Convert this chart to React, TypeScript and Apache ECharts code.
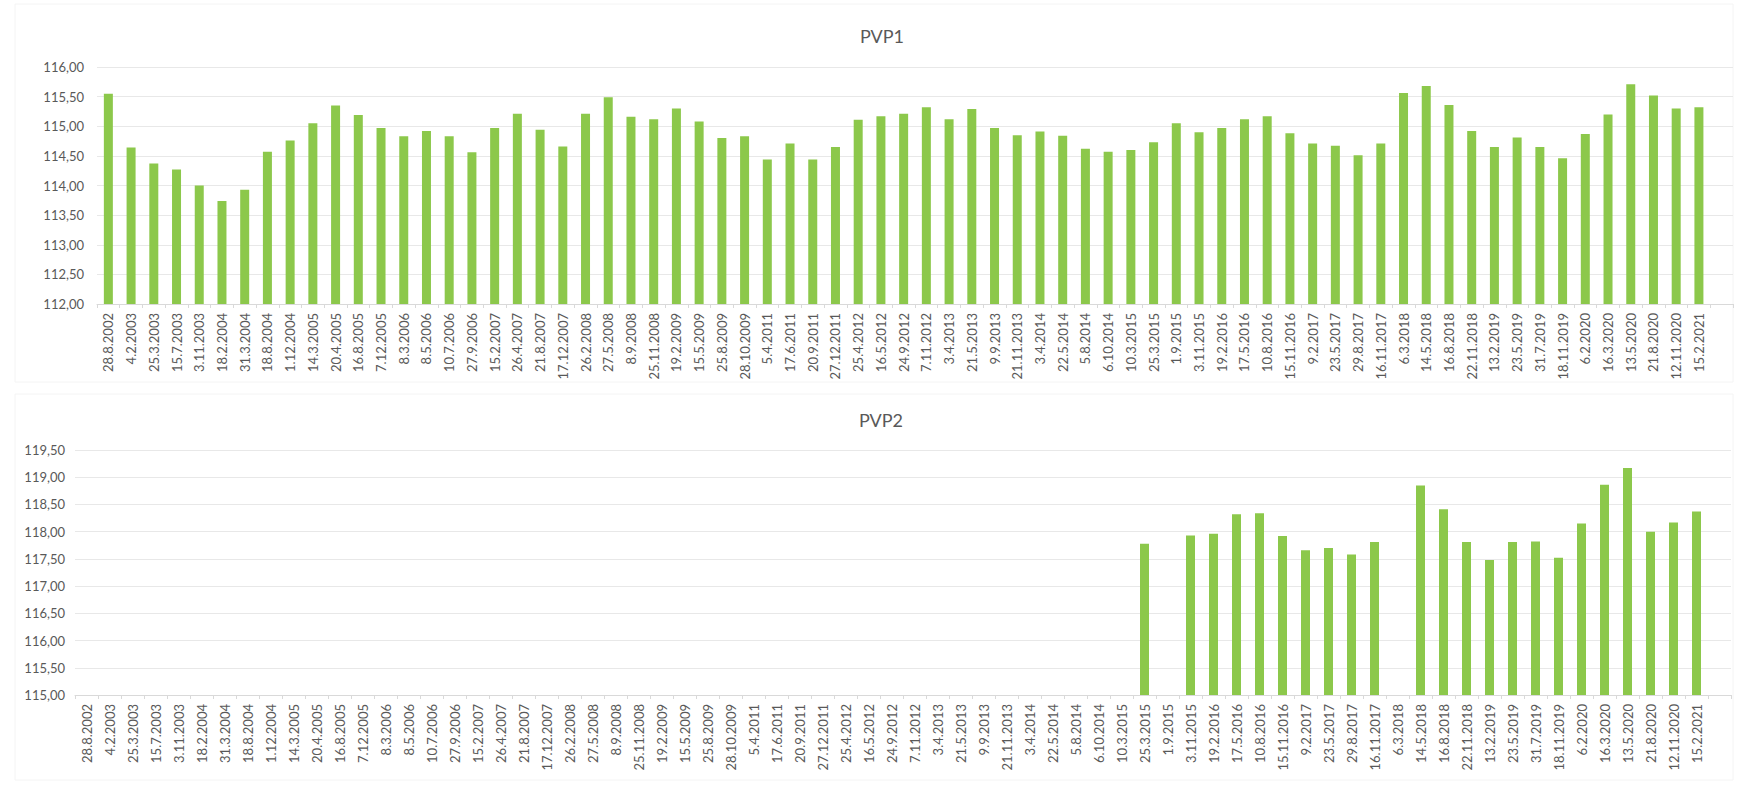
import React, { useEffect, useRef } from "react";
import * as echarts from "echarts";

const categories: string[] = [
  "28.8.2002", "4.2.2003", "25.3.2003", "15.7.2003", "3.11.2003", "18.2.2004", "31.3.2004", "18.8.2004",
  "1.12.2004", "14.3.2005", "20.4.2005", "16.8.2005", "7.12.2005", "8.3.2006", "8.5.2006", "10.7.2006",
  "27.9.2006", "15.2.2007", "26.4.2007", "21.8.2007", "17.12.2007", "26.2.2008", "27.5.2008", "8.9.2008",
  "25.11.2008", "19.2.2009", "15.5.2009", "25.8.2009", "28.10.2009", "5.4.2011", "17.6.2011", "20.9.2011",
  "27.12.2011", "25.4.2012", "16.5.2012", "24.9.2012", "7.11.2012", "3.4.2013", "21.5.2013", "9.9.2013",
  "21.11.2013", "3.4.2014", "22.5.2014", "5.8.2014", "6.10.2014", "10.3.2015", "25.3.2015", "1.9.2015",
  "3.11.2015", "19.2.2016", "17.5.2016", "10.8.2016", "15.11.2016", "9.2.2017", "23.5.2017", "29.8.2017",
  "16.11.2017", "6.3.2018", "14.5.2018", "16.8.2018", "22.11.2018", "13.2.2019", "23.5.2019", "31.7.2019",
  "18.11.2019", "6.2.2020", "16.3.2020", "13.5.2020", "21.8.2020", "12.11.2020", "15.2.2021", "",
];

const pvp1: (number | null)[] = [
  115.55, 114.64, 114.37, 114.27, 114.0, 113.74, 113.93, 114.57,
  114.76, 115.05, 115.35, 115.19, 114.97, 114.83, 114.92, 114.83,
  114.56, 114.97, 115.21, 114.94, 114.66, 115.21, 115.49, 115.16,
  115.12, 115.3, 115.08, 114.8, 114.83, 114.44, 114.71, 114.44,
  114.65, 115.11, 115.17, 115.21, 115.32, 115.12, 115.29, 114.97,
  114.85, 114.91, 114.84, 114.62, 114.57, 114.6, 114.73, 115.05,
  114.9, 114.97, 115.12, 115.17, 114.88, 114.71, 114.67, 114.51,
  114.71, 115.56, 115.68, 115.36, 114.92, 114.65, 114.81, 114.65,
  114.46, 114.87, 115.2, 115.71, 115.52, 115.3, 115.32, null,
];

const pvp2: (number | null)[] = [
  null, null, null, null, null, null, null, null,
  null, null, null, null, null, null, null, null,
  null, null, null, null, null, null, null, null,
  null, null, null, null, null, null, null, null,
  null, null, null, null, null, null, null, null,
  null, null, null, null, null, null, 117.78, null,
  117.93, 117.96, 118.32, 118.34, 117.92, 117.66, 117.7, 117.58,
  117.81, null, 118.85, 118.41, 117.81, 117.48, 117.81, 117.82,
  117.52, 118.15, 118.86, 119.17, 118.0, 118.17, 118.37, null,
];

const titles: string[] = ["PVP1", "PVP2"];
const yRange1 = { min: 112, max: 116, interval: 0.5 };
const yRange2 = { min: 115, max: 119.5, interval: 0.5 };

const FONT = "Lato, 'Open Sans', sans-serif";
const TEXT = "#595959";
const BAR = "#8cc84b";

export default function App() {
  const ref = useRef<HTMLDivElement>(null);
  useEffect(() => {
    if (!ref.current) return;
    const chart = echarts.init(ref.current, undefined, { renderer: "svg" });
    const fmt = (v: number) => v.toFixed(2).replace(".", ",");
    const xAxisBase = (gridIndex: number) => ({
      type: "category" as const,
      gridIndex,
      data: categories,
      axisLine: { show: true, lineStyle: { color: "#d9d9d9", width: 1 } },
      axisTick: { show: true, length: 4, lineStyle: { color: "#d9d9d9" } },
      axisLabel: {
        rotate: 90,
        interval: 0,
        margin: 9,
        color: TEXT,
        fontSize: 13,
        fontFamily: FONT,
      },
      splitLine: { show: false },
    });
    const yAxisBase = (gridIndex: number, r: { min: number; max: number; interval: number }, margin: number) => ({
      type: "value" as const,
      gridIndex,
      min: r.min,
      max: r.max,
      interval: r.interval,
      axisLine: { show: false },
      axisTick: { show: false },
      axisLabel: { color: TEXT, fontSize: 13, fontFamily: FONT, margin, formatter: fmt },
      splitLine: { show: true, lineStyle: { color: "#e8e8e8", width: 1 } },
    });
    chart.setOption({
      animation: false,
      backgroundColor: "#ffffff",
      grid: [
        { left: 97, right: 5, top: 67, height: 237, containLabel: false },
        { left: 75, right: 7, top: 450, height: 245, containLabel: false },
      ],
      xAxis: [xAxisBase(0), xAxisBase(1)],
      yAxis: [yAxisBase(0, yRange1, 13), yAxisBase(1, yRange2, 10)],
      series: [
        {
          type: "bar",
          name: titles[0],
          xAxisIndex: 0,
          yAxisIndex: 0,
          data: pvp1,
          barWidth: 9,
          itemStyle: { color: BAR },
        },
        {
          type: "bar",
          name: titles[1],
          xAxisIndex: 1,
          yAxisIndex: 1,
          data: pvp2,
          barWidth: 9,
          itemStyle: { color: BAR },
        },
      ],
      graphic: [
        {
          type: "rect",
          shape: { x: 15, y: 4, width: 1718, height: 378 },
          style: { fill: "none", stroke: "#f4f4f4", lineWidth: 1 },
          silent: true,
        },
        {
          type: "rect",
          shape: { x: 15, y: 394, width: 1718, height: 386 },
          style: { fill: "none", stroke: "#f4f4f4", lineWidth: 1 },
          silent: true,
        },
        {
          type: "text",
          x: 882,
          y: 36,
          style: {
            text: titles[0],
            fill: TEXT,
            font: `18px ${FONT}`,
            textAlign: "center",
            textVerticalAlign: "middle",
          },
        },
        {
          type: "text",
          x: 881,
          y: 420,
          style: {
            text: titles[1],
            fill: TEXT,
            font: `18px ${FONT}`,
            textAlign: "center",
            textVerticalAlign: "middle",
          },
        },
      ],
    });
    return () => chart.dispose();
  }, []);
  return (
    <div
      ref={ref}
      style={{ position: "fixed", left: 0, top: 0, width: 1738, height: 785, background: "#fff" }}
    />
  );
}
